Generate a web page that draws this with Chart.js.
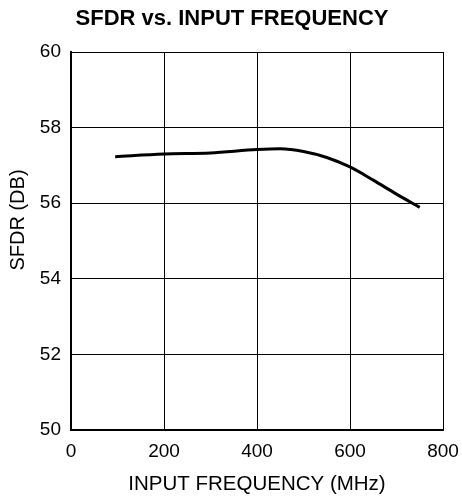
<!DOCTYPE html>
<html>
<head>
<meta charset="utf-8">
<script src="https://cdn.jsdelivr.net/npm/chart.js@4/dist/chart.umd.min.js"></script>
<style>
  html, body { margin: 0; padding: 0; background: #fff; }
  #wrap { width: 462px; height: 499px; }
</style>
</head>
<body>
<div id="wrap"><canvas id="c" width="462" height="499"></canvas></div>
<script>
// Input frequency (MHz) and measured SFDR (dB)
const freqMHz = [95, 200, 300, 400, 450, 500, 550, 600, 650, 700, 750];
const sfdrDb  = [57.23, 57.30, 57.33, 57.42, 57.44, 57.37, 57.21, 56.96, 56.61, 56.24, 55.89];
const xTicks = [0, 200, 400, 600, 800];
const yTicks = [50, 52, 54, 56, 58, 60];
const chartTitle = 'SFDR vs. INPUT FREQUENCY';
const xTitle = 'INPUT FREQUENCY (MHz)';
const yTitle = 'SFDR (DB)';

const FONT = '"Liberation Sans", Arial, Helvetica, sans-serif';

// Chart title and axis titles drawn directly so their positions can be set precisely
const titles = {
  id: 'titles',
  afterDraw(chart) {
    const { ctx, chartArea } = chart;
    ctx.save();
    ctx.fillStyle = '#000';
    ctx.textAlign = 'center';
    ctx.textBaseline = 'middle';
    ctx.font = 'bold 22px ' + FONT;
    ctx.fillText(chartTitle, 232, 19);
    ctx.font = '20.5px ' + FONT;
    ctx.fillText(xTitle, (chartArea.left + chartArea.right) / 2, 484);
    ctx.font = '20px ' + FONT;
    ctx.translate(18, 220);
    ctx.rotate(-Math.PI / 2);
    ctx.fillText(yTitle, 0, 0);
    ctx.restore();
  }
};

new Chart(document.getElementById('c'), {
  type: 'line',
  data: {
    datasets: [{
      data: freqMHz.map((f, i) => ({ x: f, y: sfdrDb[i] })),
      borderColor: '#000',
      borderWidth: 3,
      pointRadius: 0,
      cubicInterpolationMode: 'monotone',
      fill: false
    }]
  },
  options: {
    responsive: false,
    animation: false,
    layout: { padding: { left: 0, right: 19, top: 52, bottom: 0 } },
    plugins: {
      legend: { display: false },
      tooltip: { enabled: false },
      title: { display: false }
    },
    scales: {
      x: {
        type: 'linear',
        min: 0, max: 800,
        afterBuildTicks: (axis) => { axis.ticks = xTicks.map(v => ({ value: v })); },
        afterFit: (axis) => { axis.height = 69; axis.paddingLeft = 0; axis.paddingRight = 0; },
        grid: { color: '#000', lineWidth: 1, drawTicks: false },
        border: { color: '#000', width: 2 },
        ticks: { color: '#000', font: { family: FONT, size: 19 }, padding: 10, maxRotation: 0 }
      },
      y: {
        type: 'linear',
        min: 50, max: 60,
        afterBuildTicks: (axis) => { axis.ticks = yTicks.map(v => ({ value: v })); },
        afterFit: (axis) => { axis.width = 71; axis.paddingTop = 0; axis.paddingBottom = 0; },
        grid: { color: '#000', lineWidth: 1, drawTicks: false },
        border: { color: '#000', width: 2 },
        ticks: { color: '#000', font: { family: FONT, size: 19 }, padding: 10 }
      }
    }
  },
  plugins: [titles]
});
</script>
</body>
</html>
